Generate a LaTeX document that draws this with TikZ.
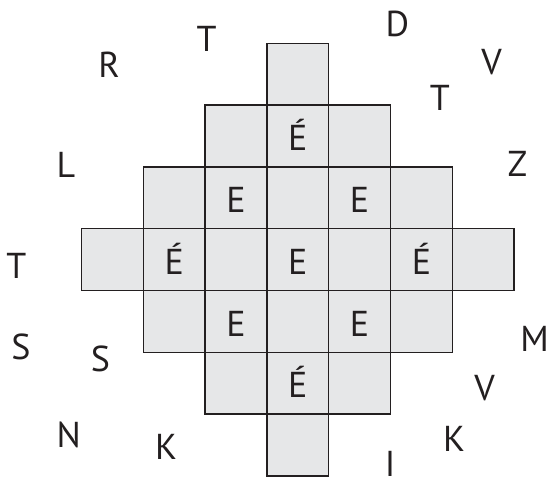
\documentclass[tikz,border=0pt]{standalone}
\usepackage{fontspec}
\setmainfont{PT Sans}
\definecolor{cellfill}{HTML}{E6E7E8}
\definecolor{ink}{HTML}{231F20}
\begin{document}
\begin{tikzpicture}[x=1pt,y=-1pt,
  cell/.style={draw=ink,fill=cellfill,line width=1.4pt,minimum size=61.8pt,inner sep=0pt,
    text height=29.4pt,text depth=0pt,font=\fontsize{36}{36}\selectfont,text=ink},
  lbl/.style={inner sep=0pt,text height=25.4pt,text depth=0pt,font=\fontsize{36}{36}\selectfont,text=ink}]
\useasboundingbox (0,0) rectangle (550,480);
\def\ox{81.5}\def\oy{43.3}\def\cs{61.8}
% cells: row / first column / last column
\foreach \r/\a/\b in {0/3/3,1/2/4,2/1/5,3/0/6,4/1/5,5/2/4,6/3/3}{
  \foreach \c in {\a,...,\b}{
    \node[cell] (c\r-\c) at ({\ox+\cs*(\c+0.5)},{\oy+\cs*(\r+0.5)}) {};
  }
}
% letters inside cells
\node[cell,draw=none,fill=none] (e13) at (c1-3) {É};
\node[cell,draw=none,fill=none] (e22) at (c2-2) {E};
\node[cell,draw=none,fill=none] (e24) at (c2-4) {E};
\node[cell,draw=none,fill=none] (e31) at (c3-1) {É};
\node[cell,draw=none,fill=none] (e33) at (c3-3) {E};
\node[cell,draw=none,fill=none] (e35) at (c3-5) {É};
\node[cell,draw=none,fill=none] (e42) at (c4-2) {E};
\node[cell,draw=none,fill=none] (e44) at (c4-4) {E};
\node[cell,draw=none,fill=none] (e53) at (c5-3) {É};
% outer letters
\node[lbl] (oT1) at (206.5,39) {T};
\node[lbl] (oR) at (109,65) {R};
\node[lbl] (oD) at (397.5,23.8) {D};
\node[lbl] (oV1) at (491.7,61.7) {V};
\node[lbl] (oT2) at (439.8,98) {T};
\node[lbl] (oL) at (66,164.5) {L};
\node[lbl] (oZ) at (517.5,164) {Z};
\node[lbl] (oT3) at (16.3,265.5) {T};
\node[lbl] (oS1) at (21,346.5) {S};
\node[lbl] (oS2) at (100.5,358.3) {S};
\node[lbl] (oM) at (534.7,338.3) {M};
\node[lbl] (oV2) at (484.7,388) {V};
\node[lbl] (oN) at (68.8,435) {N};
\node[lbl] (oK1) at (166,446.7) {K};
\node[lbl] (oK2) at (454,439) {K};
\node[lbl] (oI) at (390,463.5) {I};
\end{tikzpicture}
\end{document}
